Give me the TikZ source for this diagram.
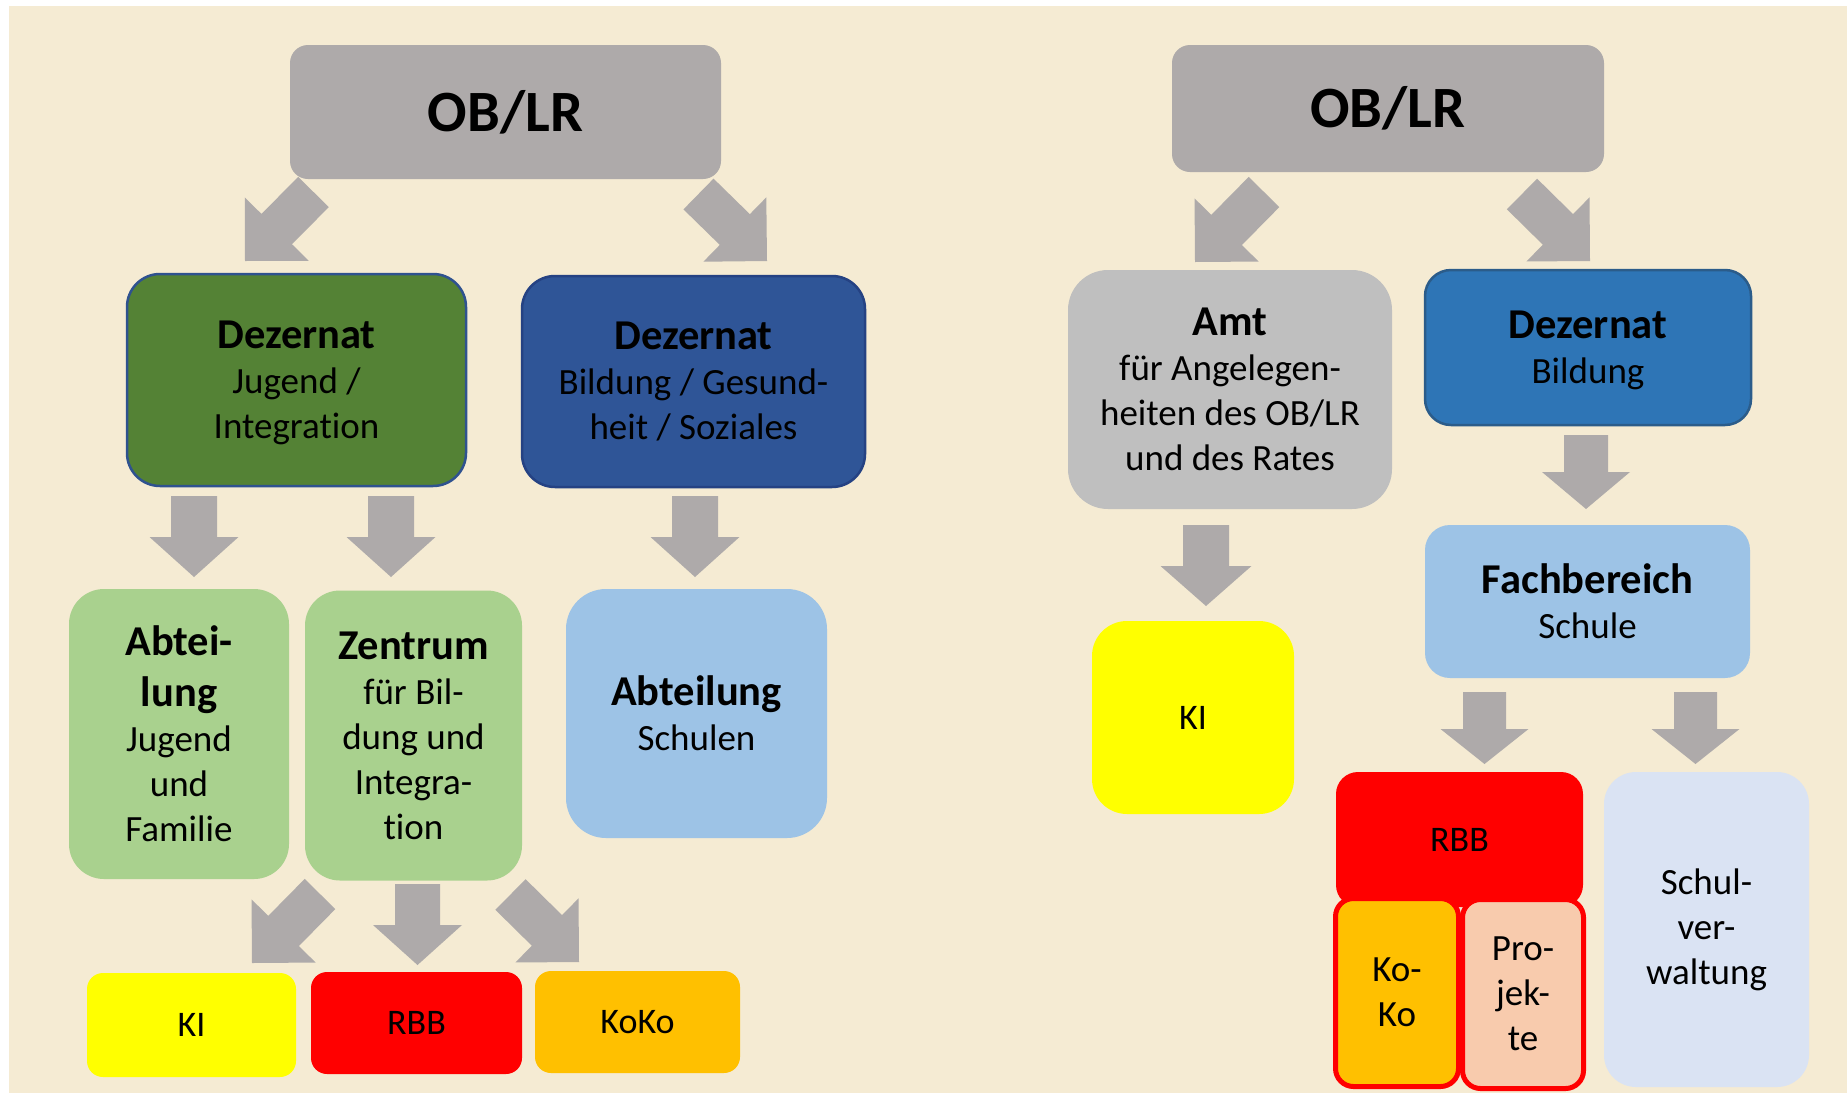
\documentclass[tikz,border=0pt]{standalone}
\usepackage{fontspec}
\setmainfont{Carlito}[Ligatures={NoCommon}]
\usetikzlibrary{calc}
\definecolor{bgbeige}{HTML}{F5EBD3}
\definecolor{obgray}{HTML}{AEAAAA}
\definecolor{arrowgray}{HTML}{AEAAAA}
\definecolor{dkgreen}{HTML}{548235}
\definecolor{greenborder}{HTML}{2F528F}
\definecolor{dkblue}{HTML}{2F5597}
\definecolor{blueborder}{HTML}{254283}
\definecolor{ltgreen}{HTML}{A9D18E}
\definecolor{ltblue}{HTML}{9DC3E6}
\definecolor{amtgray}{HTML}{BFBFBF}
\definecolor{midblue}{HTML}{2E75B6}
\definecolor{midborder}{HTML}{2B5C8A}
\definecolor{kiyellow}{HTML}{FFFF00}
\definecolor{rbbred}{HTML}{FF0000}
\definecolor{kokoorange}{HTML}{FFC000}
\definecolor{peach}{HTML}{F8CBAD}
\definecolor{paleblue}{HTML}{DAE3F3}
\newcommand\regf{\fontsize{37}{45}\selectfont}
\newcommand\titlef{\fontsize{42.5}{45}\selectfont\bfseries}
\newcommand\smallf{\fontsize{36}{45}\selectfont}
\newcommand\obf{\fontsize{58.5}{60}\selectfont\bfseries}
\newcommand\blockarrow[5]{%
  \coordinate (bahead) at ($(#2)!#5!(#1)$);
  \fill[arrowgray] ($(#1)!#3!90:(#2)$) -- ($(bahead)!#3!-90:(#1)$) -- ($(bahead)!#4!-90:(#1)$) -- (#2) -- ($(bahead)!#4!90:(#1)$) -- ($(bahead)!#3!90:(#1)$) -- ($(#1)!#3!-90:(#2)$) -- cycle;
}
\tikzset{
  orgbox/.style={rectangle, rounded corners=#1, inner sep=0pt, align=center, font=\regf, text=black},
}
\begin{document}
\begin{tikzpicture}[x=1pt,y=-1pt]
\useasboundingbox (0,0) rectangle (1847,1093);
\fill[white] (0,0) rectangle (1847,1093);
\fill[bgbeige] (9,6) rectangle (1847,1093);

% ---------- arrow coordinates ----------
% left tree
\coordinate (la1t) at (313.5,192);  \coordinate (la1h) at (245,261);
\coordinate (la2t) at (698.5,194);  \coordinate (la2h) at (767,261);
\coordinate (la3t) at (194,496);    \coordinate (la3h) at (194,577);
\coordinate (la4t) at (391,496);    \coordinate (la4h) at (391,577);
\coordinate (la5t) at (695,496);    \coordinate (la5h) at (695,577);
\coordinate (la6t) at (320,894);    \coordinate (la6h) at (252,963);
\coordinate (la7t) at (417.5,884);  \coordinate (la7h) at (417.5,965);
\coordinate (la8t) at (510.5,894.5);\coordinate (la8h) at (579,962);
% right tree
\coordinate (ra1t) at (1264,192);   \coordinate (ra1h) at (1195,262);
\coordinate (ra2t) at (1522,194);   \coordinate (ra2h) at (1590,261);
\coordinate (ra3t) at (1206,525);   \coordinate (ra3h) at (1206,606);
\coordinate (ra4t) at (1586,435);   \coordinate (ra4h) at (1586,509);
\coordinate (ra5t) at (1484.5,692); \coordinate (ra5h) at (1484.5,764);
\coordinate (ra6t) at (1695.5,692); \coordinate (ra6h) at (1695.5,764);

\blockarrow{la1t}{la1h}{21.5pt}{45pt}{45pt}
\blockarrow{la2t}{la2h}{21.5pt}{45pt}{45pt}
\blockarrow{la3t}{la3h}{23pt}{44.5pt}{40pt}
\blockarrow{la4t}{la4h}{23pt}{44.5pt}{40pt}
\blockarrow{la5t}{la5h}{23pt}{44.5pt}{40pt}
\blockarrow{la6t}{la6h}{21.5pt}{45pt}{45pt}
\blockarrow{la7t}{la7h}{22.5pt}{44.5pt}{40pt}
\blockarrow{la8t}{la8h}{21.5pt}{45pt}{45pt}
\blockarrow{ra1t}{ra1h}{21.5pt}{45pt}{45pt}
\blockarrow{ra2t}{ra2h}{21.5pt}{45pt}{45pt}
\blockarrow{ra3t}{ra3h}{23pt}{45.5pt}{40pt}
\blockarrow{ra4t}{ra4h}{22pt}{44pt}{37pt}
\blockarrow{ra5t}{ra5h}{21.5pt}{44pt}{35pt}
\blockarrow{ra6t}{ra6h}{21.5pt}{44pt}{35pt}

% ---------- left tree boxes ----------
\node[orgbox=18, fill=obgray, minimum width=431pt, minimum height=134pt] (ob1) at (505.5,112) {\obf OB/LR};
\node[orgbox=33, fill=dkgreen, draw=greenborder, line width=2.5pt, minimum width=339pt, minimum height=212pt, text depth=0pt] (dz1) at (296.5,380)
  {{\titlef Dezernat}\\Jugend /\\Integration};
\node[orgbox=33, fill=dkblue, draw=blueborder, line width=2.5pt, minimum width=343pt, minimum height=211pt] (dz2) at (693.5,381.5)
  {\raisebox{0pt}[\height][0pt]{}{\titlef Dezernat}\\Bildung / Gesund-\\heit / Soziales\raisebox{0pt}[0pt][0pt]{}};
\node[orgbox=35, fill=ltgreen, minimum width=220pt, minimum height=290pt] (ab1) at (179,734)
  {{\titlef Abtei-}\\[6pt]{\titlef lung}\\Jugend\\und\\Familie};
\node[orgbox=35, fill=ltgreen, minimum width=217pt, minimum height=290pt] (zt) at (413.5,735.5)
  {{\titlef Zentrum}\\für Bil-\\dung und\\Integra-\\tion};
\node[orgbox=40, fill=ltblue, minimum width=261pt, minimum height=249pt] (as) at (696.5,713.5)
  {{\titlef Abteilung}\\Schulen};
\node[orgbox=16, fill=kiyellow, minimum width=209pt, minimum height=104pt, font=\smallf] (ki1) at (191.5,1025) {KI};
\node[orgbox=16, fill=rbbred, minimum width=211pt, minimum height=102pt, font=\smallf] (rbb1) at (416.5,1023) {RBB};
\node[orgbox=16, fill=kokoorange, minimum width=205pt, minimum height=102pt, font=\smallf] (kk1) at (637.5,1022) {KoKo};

% ---------- right tree boxes ----------
\node[orgbox=18, fill=obgray, minimum width=432pt, minimum height=127pt] (ob2) at (1388,108.5) {\obf OB/LR};
\node[orgbox=40, fill=amtgray, minimum width=324pt, minimum height=239pt] (amt) at (1230,389.5)
  {{\titlef Amt}\\für Angelegen-\\heiten des OB/LR\\und des Rates};
\node[orgbox=26, fill=midblue, draw=midborder, line width=2.5pt, minimum width=326pt, minimum height=155pt, text depth=0pt] (dzb) at (1588,347.5)
  {{\titlef Dezernat}\\Bildung};
\node[orgbox=35, fill=kiyellow, minimum width=202pt, minimum height=193pt, font=\smallf] (ki2) at (1193,717.5) {KI};
\node[orgbox=25, fill=ltblue, minimum width=325pt, minimum height=153pt] (fb) at (1587.5,601.5)
  {{\titlef Fachbereich}\\Schule};
\node[orgbox=22, fill=rbbred, minimum width=247pt, minimum height=135pt, font=\smallf] (rbb2) at (1459.5,839.5) {RBB};
\node[orgbox=18, fill=kokoorange, draw=rbbred, line width=5pt, minimum width=123pt, minimum height=188pt] (kk2) at (1397,992.5)
  {Ko-\\Ko};
\node[orgbox=18, fill=peach, draw=rbbred, line width=5pt, minimum width=121pt, minimum height=189pt] (pj) at (1523,994)
  {Pro-\\jek-\\te};
\node[orgbox=32, fill=paleblue, minimum width=205pt, minimum height=315pt] (sv) at (1706.5,929.5)
  {Schul-\\ver-\\waltung};
\end{tikzpicture}
\end{document}
